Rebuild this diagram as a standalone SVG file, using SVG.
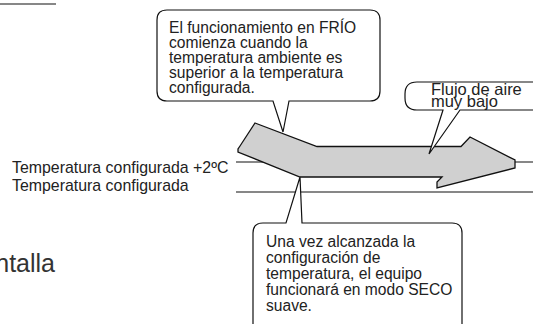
<svg xmlns="http://www.w3.org/2000/svg" width="533" height="324" viewBox="0 0 533 324">
<style>
.t{font-family:"Liberation Sans",Arial,sans-serif;fill:#222}
.ln{stroke:#111;stroke-width:1.2;fill:none}
.bub{fill:#fff;stroke:#111;stroke-width:1.2;stroke-linejoin:miter}
.arr{fill:#d0d0d0;stroke:#111;stroke-width:1.3;stroke-linejoin:miter}
</style>
<rect width="533" height="324" fill="#fff"/>
<line class="ln" x1="0" y1="4" x2="56" y2="4"/>
<text class="t" x="55" y="272" font-size="25" text-anchor="end" style="fill:#333">ntalla</text>
<g id="labels">
<text class="t" x="12" y="173" font-size="15.9">Temperatura configurada +2ºC</text>
<text class="t" x="12" y="190.7" font-size="15.9">Temperatura configurada</text>
</g>
<g id="connectors">
<line class="ln" x1="236" y1="162" x2="533" y2="162"/>
<line class="ln" x1="236" y1="192" x2="533" y2="192"/>
</g>
<g id="arrow">
<polygon class="arr" points="255,123 317,146.5 461,146.5 470,137 515,160 515,168 437,188 437,182 442,177 300,177 238,152 238,149 240,146"/>
</g>
<g id="bubble1">
<path class="bub" d="M167,10 H370 Q380,10 380,20 V91 Q380,101 370,101 H289 L283,132 L273,101 H167 Q157,101 157,91 V20 Q157,10 167,10 Z"/>
<text class="t" font-size="15.6"><tspan x="169" y="32.5">El funcionamiento en FRÍO</tspan><tspan x="169" y="47.5">comienza cuando la</tspan><tspan x="169" y="62.5">temperatura ambiente es</tspan><tspan x="169" y="77.5">superior a la temperatura</tspan><tspan x="169" y="92.5">configurada.</tspan></text>
</g>
<g id="bubble2">
<path class="bub" d="M417,82 H540 V110 H460 L429,154 L443,110 H417 Q405,110 405,98 V94 Q405,82 417,82 Z"/>
<text class="t" font-size="16.5"><tspan x="431" y="95">Flujo de aire</tspan><tspan x="431" y="107">muy bajo</tspan></text>
</g>
<g id="bubble3">
<path class="bub" d="M263,223 H286 L300,177 L302,223 H452 Q462,223 462,233 V330 H253 V233 Q253,223 263,223 Z"/>
<text class="t" font-size="15.6"><tspan x="266" y="246.7">Una vez alcanzada la</tspan><tspan x="266" y="262.7">configuración de</tspan><tspan x="266" y="278.7">temperatura, el equipo</tspan><tspan x="266" y="294.7">funcionará en modo SECO</tspan><tspan x="266" y="310.7">suave.</tspan></text>
</g>
</svg>
